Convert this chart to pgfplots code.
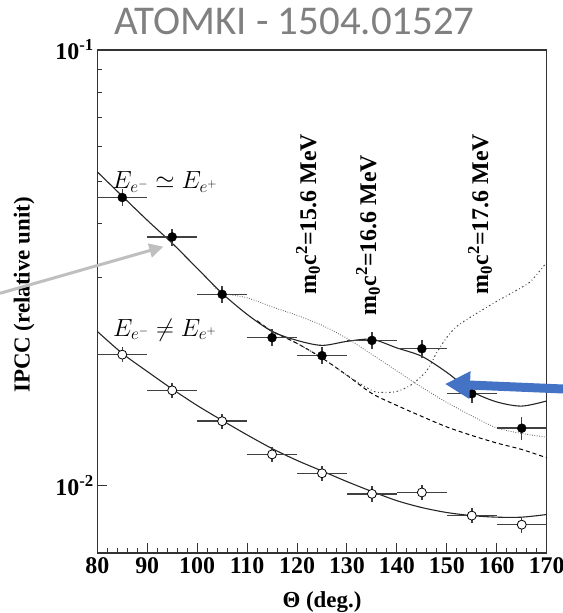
\documentclass[border=0pt]{standalone}
\usepackage{fontspec}
\setmainfont{Liberation Serif}
\newfontfamily\calibri{Carlito}
\usepackage{pgfplots}
\pgfplotsset{compat=1.18}
\usetikzlibrary{arrows.meta}
\definecolor{arrowblue}{RGB}{68,114,196}
\definecolor{arrowgray}{RGB}{191,191,191}

\begin{document}
\begin{tikzpicture}
\begin{axis}[
  at={(0bp,0bp)}, anchor=south west,
  scale only axis, width=449.4bp, height=503bp,
  ymode=log,
  xmin=80, xmax=170, ymin=0.007, ymax=0.1,
  xtick={80,90,...,170}, minor x tick num=4,
  ytick={0.01,0.1},
  yticklabels={10\textsuperscript{-2},10\textsuperscript{-1}},
  xtick pos=bottom, ytick pos=left, tick align=inside,
  major tick length=10bp, minor tick length=5bp,
  axis line style={line width=1.3bp, black!80},
  every tick/.style={line width=1bp, black!80},
  ticklabel style={font=\fontsize{24}{28}\selectfont\bfseries},
  xticklabel style={yshift=-1bp},
  /pgf/number format/assume math mode=true,
  xlabel={\bfseries Θ (deg.)},
  ylabel={\bfseries IPCC (relative unit)},
  label style={font=\fontsize{23}{27}\selectfont},
  xlabel style={at={(axis description cs:0.5,-0.1074)}, anchor=base},
  ylabel style={at={(axis description cs:-0.1631,0.5129)}, anchor=center},
  error bars/error mark=none,
  error bars/error bar style={line width=1.5bp, black!75},
]

% lower fit (E- != E+)
\addplot[black!85, line width=1.1bp, smooth] coordinates {
  (80,0.02259) (85,0.02011) (90,0.01828) (95,0.01666) (100,0.01527)
  (105,0.01411) (110,0.01307) (115,0.01216) (120,0.01142) (125,0.01080)
  (130,0.01021) (135,0.00969) (140,0.00923) (145,0.00890) (150,0.00867)
  (155,0.00853) (160,0.00846) (165,0.00846) (170,0.00858)
};

% background only (dashed)
\addplot[black, line width=1bp, dash pattern=on 4bp off 3bp, smooth] coordinates {
  (112,0.02390) (115,0.02262) (120,0.02120) (125,0.01963) (130,0.01791)
  (135,0.01627) (140,0.01527) (145,0.01441) (150,0.01363) (155,0.01303)
  (160,0.01252) (165,0.01210) (170,0.01158)
};

% m0c2 = 15.6 MeV (dotted)
\addplot[black!60, line width=0.9bp, dash pattern=on 0.8bp off 1.6bp, smooth] coordinates {
  (103,0.02900) (105,0.02770) (110,0.02698) (115,0.02572) (120,0.02459)
  (125,0.02333) (130,0.02177) (135,0.02000) (140,0.01833) (145,0.01680)
  (150,0.01552) (155,0.01445) (160,0.01356) (165,0.01317) (170,0.01291)
};

% m0c2 = 17.6 MeV (dash-dot)
\addplot[black!70, line width=1bp, dash pattern=on 1.6bp off 2.6bp on 0.8bp off 2.6bp, smooth] coordinates {
  (112,0.02390) (115,0.02262) (120,0.02120) (125,0.01963) (130,0.01791)
  (135,0.01653) (137,0.01636) (140,0.01645) (143,0.01707) (146,0.01838)
  (148,0.02022) (150,0.02189) (152,0.02320) (155,0.02446) (160,0.02648)
  (165,0.02852) (167,0.02959) (170,0.03255)
};

% best fit, m0c2 = 16.6 MeV (solid)
\addplot[black!85, line width=1.1bp, smooth] coordinates {
  (80,0.05251) (85,0.04618) (90,0.04066) (95,0.03600) (100,0.03154)
  (105,0.02763) (110,0.02472) (115,0.02259) (120,0.02154) (125,0.02098)
  (130,0.02143) (135,0.02166) (140,0.02070) (145,0.01980) (150,0.01819)
  (155,0.01645) (160,0.01556) (165,0.01522) (170,0.01564)
};

% data E- ~ E+ (filled)
\addplot[only marks, mark=*, mark size=4.5bp, mark options={fill=black, draw=black},
  error bars/.cd, x dir=both, x explicit, y dir=both, y explicit]
  coordinates {
  (85,0.04585) +- (5,0.00206)
  (95,0.03723) +- (5,0.00168)
  (105,0.02748) +- (5,0.00124)
  (115,0.02185) +- (5,0.00098)
  (125,0.01987) +- (5,0.00089)
  (135,0.02154) +- (5,0.00097)
  (145,0.02061) +- (5,0.00093)
  (155,0.01625) +- (5,0.00075)
  (165,0.01354) +- (5,0.00082)
};

% data E- != E+ (open)
\addplot[only marks, mark=*, mark size=4.5bp, mark options={fill=white, draw=black, line width=0.8bp},
  error bars/.cd, x dir=both, x explicit, y dir=both, y explicit]
  coordinates {
  (85,0.01998) +- (5,0.00080)
  (95,0.01654) +- (5,0.00066)
  (105,0.01405) +- (5,0.00056)
  (115,0.01179) +- (5,0.00047)
  (125,0.01067) +- (5,0.00043)
  (135,0.00957) +- (5,0.00038)
  (145,0.00964) +- (5,0.00039)
  (155,0.00853) +- (5,0.00034)
  (165,0.00813) +- (5,0.00033)
};
\end{axis}

% annotations (1bp = 1 px of the reference; axis box at 97.3..546.7 x 50..553)
\node[font=\fontsize{25}{29}\selectfont] at (67.7bp,371.3bp) {$E_{e^-}\simeq E_{e^+}$};
\node[font=\fontsize{25}{29}\selectfont] at (67.7bp,223bp) {$E_{e^-}\neq E_{e^+}$};
\node[rotate=90, font=\fontsize{24}{28}\selectfont\bfseries] at (210.7bp,339bp) {m\textsubscript{0}c\textsuperscript{2}=15.6 MeV};
\node[rotate=90, font=\fontsize{24}{28}\selectfont\bfseries] at (270.7bp,318bp) {m\textsubscript{0}c\textsuperscript{2}=16.6 MeV};
\node[rotate=90, font=\fontsize{24}{28}\selectfont\bfseries] at (382.7bp,339bp) {m\textsubscript{0}c\textsuperscript{2}=17.6 MeV};

\node[anchor=base, text=black!50, font=\calibri\fontsize{41}{48}\selectfont] at (197.2bp,518bp) {ATOMKI - 1504.01527};

\draw[arrowgray, line width=3bp, -{Triangle[length=14bp,width=14bp]}] (-97.3bp,259.7bp) -- (66bp,306.3bp);
\draw[arrowblue, line width=9bp, -{Triangle[length=25bp,width=26bp]}] (465.7bp,164bp) -- (347.7bp,169bp);

\pgfresetboundingbox
\path[use as bounding box] (-97.3bp,-60bp) rectangle (465.7bp,553bp);
\end{tikzpicture}
\end{document}
